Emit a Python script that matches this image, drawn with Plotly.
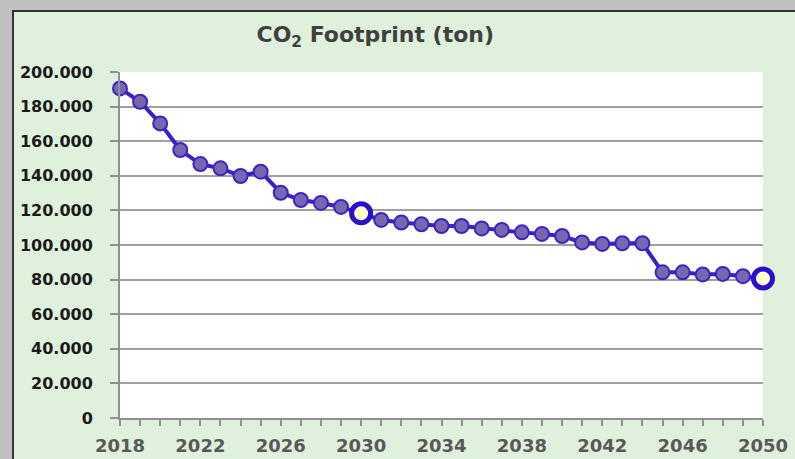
import plotly.graph_objects as go

years = list(range(2018, 2051))
co2_tons = [190500, 182800, 170300, 154900, 146800, 144300, 139900, 142400, 130200, 126000,
            124300, 122000, 118300, 114500, 113000, 112000, 111000, 111000, 109600, 108700,
            107300, 106400, 105200, 101500, 100600, 101000, 101000, 84200, 84200, 83000,
            83300, 82000, 80700]
highlight_years = [2030, 2050]
x_label_years = list(range(2018, 2051, 4))
y_ticks = list(range(0, 200001, 20000))

hx = [y for y in years if y in highlight_years]
hy = [v for y, v in zip(years, co2_tons) if y in highlight_years]

fig = go.Figure()
fig.add_trace(go.Scatter(
    x=years, y=co2_tons, mode="lines+markers",
    line=dict(color="#3A1FCC", width=4),
    marker=dict(size=14, color="#7A66AE", line=dict(color="#3A25C4", width=2)),
    cliponaxis=False, showlegend=False))
fig.add_trace(go.Scatter(
    x=hx, y=hy, mode="markers",
    marker=dict(size=19, color="#FFFFD0", line=dict(color="#2A10CC", width=5)),
    cliponaxis=False, showlegend=False))

W, H = 795, 459
L, R, T, B = 120, 32, 72, 41
pw, ph = W - L - R, H - T - B

def px(xp):
    return (xp - L) / pw

def py(yp):
    return (H - B - yp) / ph

shapes = [
    dict(type="rect", xref="paper", yref="paper", x0=px(0), x1=px(W), y0=py(0), y1=py(10),
         fillcolor="#C0C0C0", line=dict(width=0), layer="above"),
    dict(type="rect", xref="paper", yref="paper", x0=px(0), x1=px(12), y0=py(0), y1=py(H),
         fillcolor="#C0C0C0", line=dict(width=0), layer="above"),
    dict(type="line", xref="paper", yref="paper", x0=px(13), x1=px(13), y0=py(10), y1=py(H),
         line=dict(color="#333333", width=2), layer="above"),
    dict(type="line", xref="paper", yref="paper", x0=px(12), x1=px(W), y0=py(11), y1=py(11),
         line=dict(color="#333333", width=2), layer="above"),
]

fig.update_layout(
    width=W, height=H,
    margin=dict(l=L, r=R, t=T, b=B),
    paper_bgcolor="#DFF0DC", plot_bgcolor="#FFFFFF",
    separators=",.",
    shapes=shapes,
    title=dict(text="CO<sub>2</sub> Footprint (ton)", x=0.472, xanchor="center", y=0.925, yanchor="middle",
               font=dict(family="DejaVu Sans", size=22, color="#404040", weight="bold")),
    xaxis=dict(range=[2018, 2050], tickmode="array", tickvals=x_label_years, automargin=False,
               ticks="outside", ticklen=6, tickcolor="#909090", tickwidth=1.5,
               ticklabelstandoff=4,
               showgrid=False, zeroline=False, showline=True, linecolor="#909090", linewidth=2,
               tickfont=dict(family="DejaVu Sans", size=18, color="#595959", weight="bold"),
               minor=dict(dtick=1, tick0=2018, ticks="outside", ticklen=6, tickcolor="#909090", tickwidth=1.5, showgrid=False)),
    yaxis=dict(range=[0, 200000], tickmode="array", tickvals=y_ticks, tickformat=",d", automargin=False,
               ticks="outside", ticklen=8, tickcolor="#909090", tickwidth=1.5,
               ticklabelstandoff=14,
               showgrid=True, gridcolor="#A0A0A0", gridwidth=1.5, zeroline=False,
               showline=True, linecolor="#909090", linewidth=2,
               tickfont=dict(family="DejaVu Sans", size=16, color="#1A1A1A", weight="bold")),
)

fig.write_html("out.html", config={"displayModeBar": False},
               post_script="document.body.style.margin='0';document.body.style.padding='0';")
